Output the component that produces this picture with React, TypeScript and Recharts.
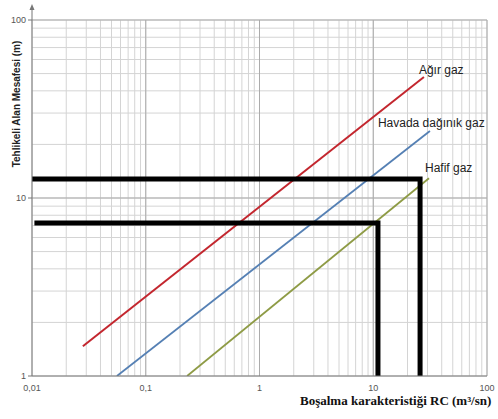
import { LineChart, Line, XAxis, YAxis, CartesianGrid, Label, ReferenceLine } from 'recharts';

// log-log chart: Tehlikeli alan mesafesi vs boşalma karakteristiği
const xMajor = [0.01, 0.1, 1, 10, 100];
const xMajorLabels = ['0,01', '0,1', '1', '10', '100'];
const yMajor = [1, 10, 100];
const yMajorLabels = ['1', '10', '100'];

// gas curves (end points)
const agirX = [0.028, 27.9];
const agirY = [1.47, 47.8];
const havadaX = [0.0558, 31.5];
const havadaY = [1, 23.8];
const hafifX = [0.231, 30.9];
const hafifY = [1, 12.9];

// black reading lines
const ustX = [0.01, 25.8, 25.8];
const ustY = [12.8, 12.8, 1];
const altX = [0.0105, 11, 11];
const altY = [7.24, 7.24, 1];

const zip = (xs: number[], ys: number[]) => xs.map((x, i) => ({ x, y: ys[i] }));

const minorTicks = (from: number, to: number) => {
  const out: number[] = [];
  for (let e = from; e < to; e++) {
    for (let d = 1; d <= 9; d++) out.push(Number((d * Math.pow(10, e)).toPrecision(3)));
  }
  out.push(Math.pow(10, to));
  return out;
};
const xTicks = minorTicks(-2, 2);
const yTicks = minorTicks(0, 2);

const tickFont = { fontFamily: 'Liberation Sans, Arial, sans-serif', fontSize: 9, fill: '#555' };

function XTick(props: any) {
  const { x, y, payload } = props;
  const i = xMajor.indexOf(payload.value);
  if (i < 0) return null;
  return (
    <text x={x} y={y + 11} textAnchor="middle" {...tickFont}>
      {xMajorLabels[i]}
    </text>
  );
}

function YTick(props: any) {
  const { x, y, payload } = props;
  const i = yMajor.indexOf(payload.value);
  if (i < 0) return null;
  return (
    <g>
      <line x1={x + 1} x2={x + 5} y1={y} y2={y} stroke="#777" />
      <text x={x - 1} y={y + 3} textAnchor="end" {...tickFont}>
        {yMajorLabels[i]}
      </text>
    </g>
  );
}

const endLabel = (text: string, count: number, dx: number, dy: number) => (props: any) => {
  if (props.index !== count - 1) return null;
  return (
    <text
      x={props.x + dx}
      y={props.y + dy}
      fontFamily="Liberation Sans, Arial, sans-serif"
      fontSize={12}
      fill="#222"
    >
      {text}
    </text>
  );
};

export default function App() {
  return (
    <div style={{ position: 'absolute', left: 0, top: 0, width: 498, height: 419, background: '#fff' }}>
      <LineChart width={498} height={419} margin={{ top: 20, right: 11, bottom: 0, left: 0 }}>
        <CartesianGrid stroke="#d4d4d4" strokeWidth={1} />
        {xMajor.slice(1).map((v) => (
          <ReferenceLine key={'vx' + v} x={v} stroke="#ababab" />
        ))}
        {yMajor.slice(1).map((v) => (
          <ReferenceLine key={'hy' + v} y={v} stroke="#ababab" />
        ))}
        <XAxis
          dataKey="x"
          type="number"
          scale="log"
          domain={[0.01, 100]}
          ticks={xTicks}
          interval={0}
          allowDataOverflow
          height={43}
          tickLine={false}
          tickSize={2}
          tickMargin={2}
          axisLine={{ stroke: '#777' }}
          tick={<XTick />}
        >
          <Label
            content={() => (
              <text
                x={300}
                y={405}
                fontFamily="Liberation Serif, Times New Roman, serif"
                fontWeight="bold"
                fontSize={13}
                fill="#111"
              >
                Boşalma karakteristiği RC (m³/sn)
              </text>
            )}
          />
        </XAxis>
        <YAxis
          dataKey="y"
          type="number"
          scale="log"
          domain={[1, 100]}
          ticks={yTicks}
          interval={0}
          allowDataOverflow
          width={32}
          tickLine={false}
          tickSize={4}
          tickMargin={1}
          axisLine={{ stroke: '#777' }}
          tick={<YTick />}
        >
          <Label
            content={() => (
              <g>
                <line x1={32} x2={32} y1={20} y2={7} stroke="#777" />
                <path d="M29.5,10 L32,4 L34.5,10 Z" fill="#777" />
                <text
                  transform="translate(20,104) rotate(-90)"
                  textAnchor="middle"
                  fontFamily="Liberation Sans, Arial, sans-serif"
                  fontWeight="bold"
                  fontSize={10}
                  fill="#222"
                >
                  Tehlikeli Alan Mesafesi (m)
                </text>
              </g>
            )}
          />
        </YAxis>
        <Line
          data={zip(agirX, agirY)}
          dataKey="y"
          stroke="#c3262e"
          strokeWidth={2}
          dot={false}
          isAnimationActive={false}
          label={endLabel('Ağır gaz', agirX.length, -5, -3)}
        />
        <Line
          data={zip(havadaX, havadaY)}
          dataKey="y"
          stroke="#5580b4"
          strokeWidth={1.8}
          dot={false}
          isAnimationActive={false}
          label={endLabel('Havada dağınık gaz', havadaX.length, -52, -4)}
        />
        <Line
          data={zip(hafifX, hafifY)}
          dataKey="y"
          stroke="#8e9b45"
          strokeWidth={1.8}
          dot={false}
          isAnimationActive={false}
          label={endLabel('Hafif gaz', hafifX.length, -4, -6)}
        />
        <Line
          data={zip(ustX, ustY)}
          dataKey="y"
          stroke="#000"
          strokeWidth={5}
          strokeLinejoin="miter"
          dot={false}
          isAnimationActive={false}
        />
        <Line
          data={zip(altX, altY)}
          dataKey="y"
          stroke="#000"
          strokeWidth={5}
          strokeLinejoin="miter"
          dot={false}
          isAnimationActive={false}
        />
      </LineChart>
    </div>
  );
}
